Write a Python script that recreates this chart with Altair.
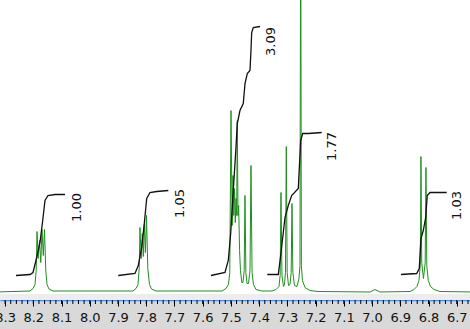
import altair as alt
import pandas as pd

# 1H NMR spectrum trace (ppm, intensity in arbitrary units)
spec_ppm = [8.33,
    8.2117, 8.2011, 8.1940, 8.1898, 8.1869, 8.1827, 8.1781, 8.1735, 8.1692, 8.1646, 8.1604, 8.1558, 8.1515, 8.1444, 8.1303,
    7.8469, 7.8362, 7.8292, 7.8249, 7.8221, 7.8178, 7.8139, 7.8104, 7.8068, 7.8030, 7.7991, 7.7944, 7.7884, 7.7813, 7.7654,
    7.5316, 7.5174, 7.5086, 7.5040, 7.4997, 7.4955, 7.4926, 7.4898, 7.4870, 7.4845, 7.4817, 7.4795, 7.4774, 7.4749, 7.4725,
    7.4693, 7.4661, 7.4615, 7.4572, 7.4530, 7.4501, 7.4470, 7.4431, 7.4377, 7.4324, 7.4289, 7.4250, 7.4200, 7.4112, 7.3899,
    7.3545, 7.3403, 7.3297, 7.3255, 7.3226, 7.3191, 7.3138, 7.3102, 7.3067, 7.3038, 7.3007, 7.2960, 7.2907, 7.2865, 7.2836,
    7.2805, 7.2748, 7.2659, 7.2589, 7.2553, 7.2528, 7.2504, 7.2465, 7.2376, 7.2199, 7.1916,
    7.0074, 6.9896, 6.9719,
    6.8657, 6.8515, 6.8409, 6.8338, 6.8292, 6.8267, 6.8239, 6.8178, 6.8118, 6.8090, 6.8061, 6.8008, 6.7930, 6.7806, 6.7594, 6.6400]
spec_int = [0.5,
    1.5, 4, 8, 22, 61, 34, 52, 30, 63, 37, 63, 22, 8, 3.5, 1.5,
    1.5, 4, 8, 24, 65, 34, 59, 36, 68, 40, 77, 24, 8, 3.5, 1.5,
    1.5, 4, 8, 20, 182, 67, 117, 77, 104, 70, 94, 77, 172, 77, 87,
    42, 22, 10, 10, 22, 97, 20, 9, 9, 22, 127, 20, 8, 3, 1.5,
    1.5, 3, 6, 17, 100, 17, 6, 8, 20, 146, 20, 7, 8, 20, 89,
    20, 7, 6, 14, 27, 420, 27, 12, 5, 2, 1,
    0.5, 3, 0.5,
    1, 3, 6, 12, 27, 136, 30, 14, 30, 125, 27, 12, 6, 3, 1, 0.5]

# Integral curves
int_A_ppm = [8.2613, 8.2117, 8.2011, 8.1880, 8.1763, 8.1667, 8.1586, 8.1480, 8.1232, 8.0878]
int_A_val = [17, 18, 20, 35, 50, 72, 92, 97, 98, 98]
int_B_ppm = [7.8990, 7.8398, 7.8281, 7.8161, 7.8068, 7.7983, 7.7867, 7.7629, 7.7218]
int_B_val = [17, 19, 27, 45, 69, 94, 100, 101, 102]
int_C_ppm = [7.5706, 7.5210, 7.5093, 7.5008, 7.4916, 7.4820, 7.4774, 7.4679, 7.4562, 7.4501,
             7.4420, 7.4324, 7.4289, 7.4264, 7.4207, 7.3970]
int_C_val = [17, 20, 32, 59, 102, 145, 169, 182, 189, 209, 219, 222, 242, 260, 265, 266]
int_D_ppm = [7.3711, 7.3322, 7.3237, 7.3084, 7.2968, 7.2847, 7.2613, 7.2528, 7.2457, 7.2259, 7.1784]
int_D_val = [18, 18, 37, 75, 87, 97, 104, 152, 159, 159, 160]
int_E_ppm = [6.8975, 6.8419, 6.8327, 6.8267, 6.8185, 6.8100, 6.8044, 6.7948, 6.7771, 6.7357]
int_E_val = [18, 19, 24, 54, 62, 75, 97, 100, 100, 100]

# Integral labels
label_text = ["1.00", "1.05", "3.09", "1.77", "1.03"]
label_ppm = [8.0452, 7.6804, 7.3580, 7.1420, 6.6992]
label_val = [85, 89, 251, 146, 87]

# Axis ticks
major_ticks = [8.3, 8.2, 8.1, 8.0, 7.9, 7.8, 7.7, 7.6, 7.5, 7.4, 7.3, 7.2, 7.1, 7.0, 6.9, 6.8, 6.7]
minor_ticks = [8.30, 8.28, 8.26, 8.24, 8.22, 8.20, 8.18, 8.16, 8.14, 8.12, 8.10, 8.08, 8.06, 8.04, 8.02,
               8.00, 7.98, 7.96, 7.94, 7.92, 7.90, 7.88, 7.86, 7.84, 7.82, 7.80, 7.78, 7.76, 7.74, 7.72,
               7.70, 7.68, 7.66, 7.64, 7.62, 7.60, 7.58, 7.56, 7.54, 7.52, 7.50, 7.48, 7.46, 7.44, 7.42,
               7.40, 7.38, 7.36, 7.34, 7.32, 7.30, 7.28, 7.26, 7.24, 7.22, 7.20, 7.18, 7.16, 7.14, 7.12,
               7.10, 7.08, 7.06, 7.04, 7.02, 7.00, 6.98, 6.96, 6.94, 6.92, 6.90, 6.88, 6.86, 6.84, 6.82,
               6.80, 6.78, 6.76, 6.74, 6.72, 6.70, 6.68, 6.66]

spec_df = pd.DataFrame({"ppm": spec_ppm, "val": spec_int, "order": range(len(spec_ppm))})
rows = []
for g, (pp, vv) in {"A": (int_A_ppm, int_A_val), "B": (int_B_ppm, int_B_val),
                    "C": (int_C_ppm, int_C_val), "D": (int_D_ppm, int_D_val),
                    "E": (int_E_ppm, int_E_val)}.items():
    for i, (p, v) in enumerate(zip(pp, vv)):
        rows.append({"ppm": p, "val": v, "grp": g, "order": i})
int_df = pd.DataFrame(rows)
lab_df = pd.DataFrame({"ppm": label_ppm, "val": label_val, "text": label_text})
tick_df = pd.DataFrame({"ppm": minor_ticks})

xs = alt.Scale(domain=[8.318, 6.653], nice=False, zero=False)
ys = alt.Scale(domain=[-7.5, 292.5], nice=False, zero=False)
xaxis = alt.Axis(
    values=major_ticks, format=".1f", title=None, grid=False,
    labelFont="DejaVu Sans", labelFontSize=13, labelColor="#111111",
    labelPadding=5, labelFlush=False, labelOverlap=False,
    tickColor="#000000", tickSize=6, tickWidth=1,
    domainColor="#4a8ee6", domainWidth=1.5)
X = alt.X("ppm:Q", scale=xs, axis=xaxis)
Y = alt.Y("val:Q", scale=ys, axis=None)

band = alt.Chart(pd.DataFrame({"a": [0]})).mark_rect(color="#ededed").encode(
    x=alt.value(0), x2=alt.value(470), y=alt.value(294), y2=alt.value(300))

spectrum = alt.Chart(spec_df).mark_line(color="#1f8f1f", strokeWidth=1, clip=True).encode(
    x=X, y=Y, order="order:Q")

integrals = alt.Chart(int_df).mark_line(color="#111111", strokeWidth=1.3, clip=True).encode(
    x=X, y=Y, detail="grp:N", order="order:Q")

labels = alt.Chart(lab_df).mark_text(angle=270, align="center", baseline="middle",
                                     font="DejaVu Sans", fontSize=13, color="#111111").encode(
    x=X, y=Y, text="text:N")

minor = alt.Chart(tick_df).mark_rule(color="#000000", strokeWidth=1).encode(
    x=X, y=alt.value(300), y2=alt.value(304))

chart = alt.layer(band, minor, spectrum, integrals, labels).properties(
    width=470, height=300,
    padding={"left": 0, "right": 0, "top": 0, "bottom": 29},
    autosize=alt.AutoSizeParams(type="none"),
    background="#d9d9d9",
).configure_view(fill="white", strokeWidth=0)

chart.save("out.html", embed_options={"renderer": "svg", "actions": False})
